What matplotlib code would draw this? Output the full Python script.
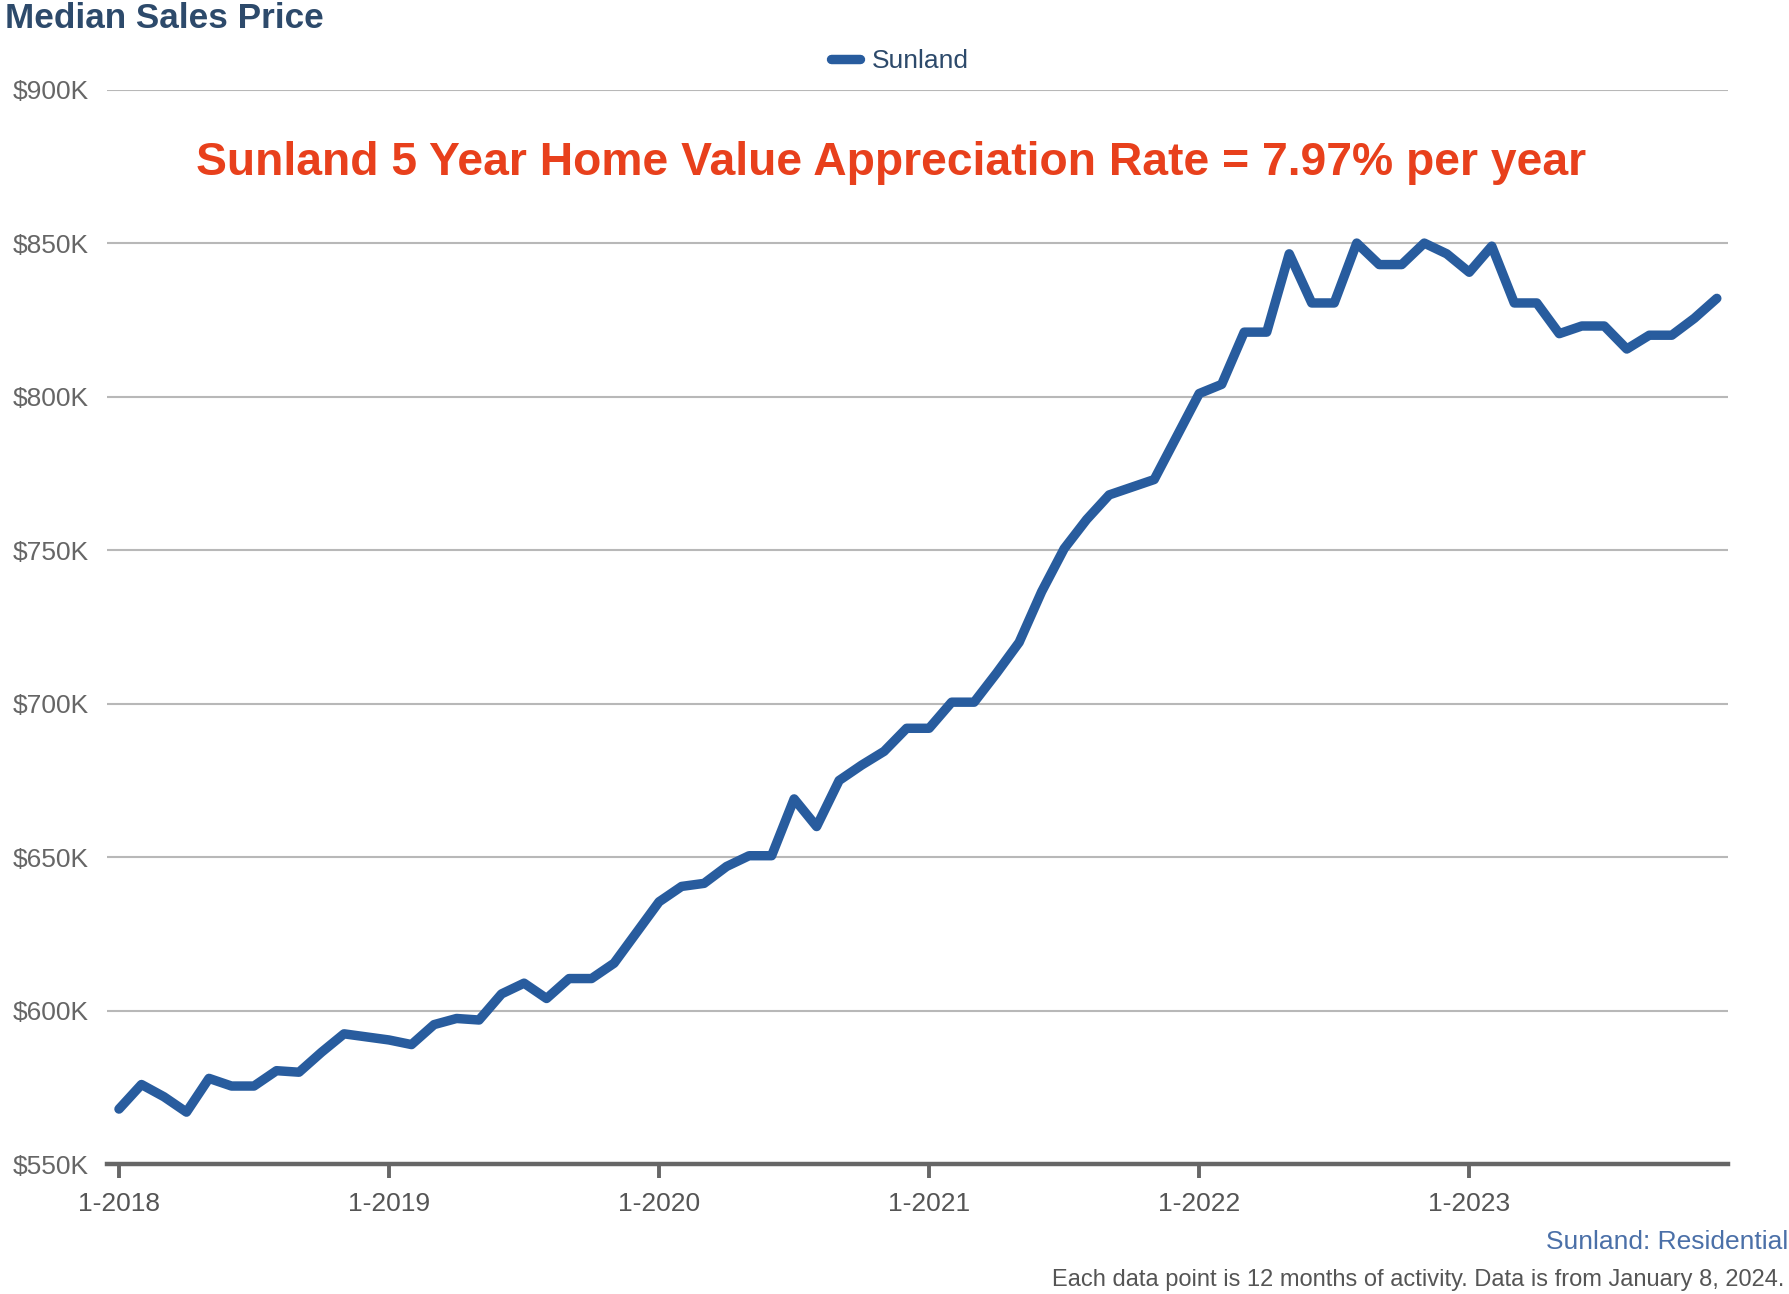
import matplotlib
matplotlib.use("Agg")
import matplotlib.pyplot as plt
from matplotlib.ticker import FuncFormatter

plt.rcParams['font.family'] = ['Liberation Sans', 'DejaVu Sans']

# monthly median sales price, Jan 2018 .. Dec 2023, in $K
prices = [568, 576, 572, 567, 578, 575.5, 575.5, 580.5, 580, 586.5, 592.5, 591.5,
          590.5, 589, 595.5, 597.5, 597, 605.5, 609, 604, 610.5, 610.5, 615.5, 625.5,
          635.5, 640.5, 641.5, 647, 650.5, 650.5, 669, 660, 675, 680, 684.5, 692,
          692, 700.5, 700.5, 710, 720, 736.5, 750.5, 760, 768, 770.5, 773, 787,
          801, 804, 821, 821, 846.5, 830.5, 830.5, 850, 843, 843, 850, 846.5,
          840.5, 849, 830.5, 830.5, 820.5, 823, 823, 815.5, 820, 820, 825.5, 832]
year_labels = ["1-2018", "1-2019", "1-2020", "1-2021", "1-2022", "1-2023"]
y_ticks = [550, 600, 650, 700, 750, 800, 850, 900]

LINE = "#285c9e"
GRAY = "#666666"

fig = plt.figure(figsize=(17.9, 12.94), dpi=100)
ax = fig.add_axes([0.0598, 0.1002, 0.9056, 0.8306])

months = list(range(len(prices)))
ax.plot(months, prices, color=LINE, lw=6.8, solid_capstyle="round",
        solid_joinstyle="round", label="Sunland", zorder=3)

ax.set_xlim(-0.53, 71.5)
ax.set_ylim(550, 900)
ax.set_yticks(y_ticks)
ax.yaxis.set_major_formatter(FuncFormatter(lambda v, p: f"${int(v)}K"))
ax.set_xticks([12 * i for i in range(len(year_labels))])
ax.set_xticklabels(year_labels)

ax.grid(axis="y", color="#b8b8b8", lw=1.5)
ax.set_axisbelow(True)
for s in ["top", "right", "left"]:
    ax.spines[s].set_visible(False)
ax.spines["bottom"].set_color(GRAY)
ax.spines["bottom"].set_linewidth(3.2)
ax.tick_params(axis="y", length=0, pad=13, labelsize=19, labelcolor=GRAY)
ax.tick_params(axis="x", length=10, width=2.8, color=GRAY, pad=10,
               labelsize=19, labelcolor="#555555")

fig.text(0.003, 1 - 19 / 1294, "Median Sales Price", fontsize=25.3, fontweight="bold",
         color="#2d4a6b", ha="left", va="center")

leg = ax.legend(loc="center", bbox_to_anchor=(0.503, 0.953), bbox_transform=fig.transFigure,
                frameon=False, fontsize=19, handlelength=1.1, handletextpad=0.45)
for t in leg.get_texts():
    t.set_color("#2d4a6b")

fig.text(0.498, 1 - 163 / 1294, "Sunland 5 Year Home Value Appreciation Rate = 7.97% per year",
         fontsize=33.3, fontweight="bold", color="#e8401c", ha="center", va="center")

fig.text(0.999, 1 - 1242 / 1294, "Sunland: Residential", fontsize=19, color="#4b70a8",
         ha="right", va="center")
fig.text(0.997, 1 - 1280 / 1294,
         "Each data point is 12 months of activity. Data is from January 8, 2024.",
         fontsize=17, color="#555555", ha="right", va="center")

fig.savefig("out.png", dpi=100)
